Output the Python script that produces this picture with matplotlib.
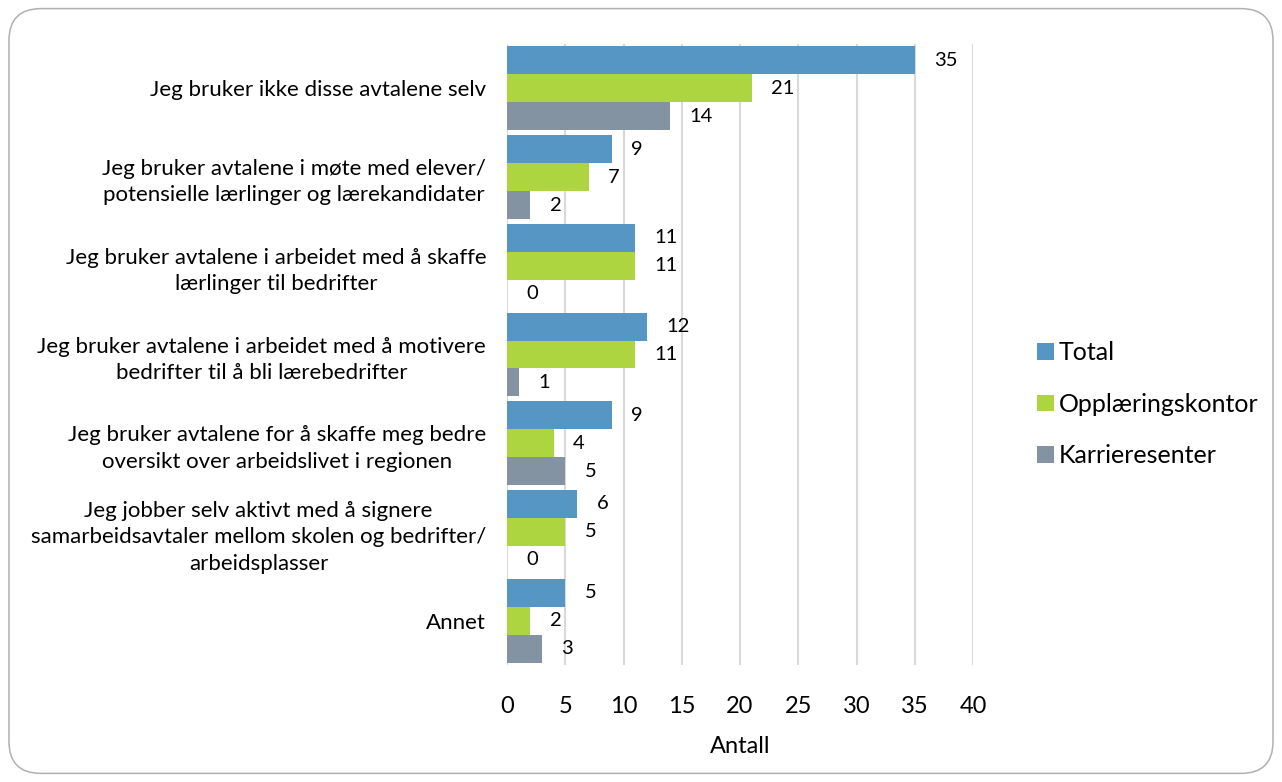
import numpy as np
import matplotlib.pyplot as plt
from matplotlib.patches import FancyBboxPatch

plt.rcParams['font.family'] = ['Lato', 'DejaVu Sans']

# Data
categories = [
    'Jeg bruker ikke disse avtalene selv',
    'Jeg bruker avtalene i møte med elever/\npotensielle lærlinger og lærekandidater',
    'Jeg bruker avtalene i arbeidet med å skaffe\nlærlinger til bedrifter',
    'Jeg bruker avtalene i arbeidet med å motivere\nbedrifter til å bli lærebedrifter',
    'Jeg bruker avtalene for å skaffe meg bedre\noversikt over arbeidslivet i regionen',
    'Jeg jobber selv aktivt med å signere\nsamarbeidsavtaler mellom skolen og bedrifter/\narbeidsplasser',
    'Annet',
]
total = [35, 9, 11, 12, 9, 6, 5]
opplaering = [21, 7, 11, 11, 4, 5, 2]
karriere = [14, 2, 0, 1, 5, 0, 3]
series_names = ['Total', 'Opplæringskontor', 'Karrieresenter']
colors = ['#5596C4', '#ADD53F', '#8393A1']

fig = plt.figure(figsize=(12.82, 7.82), dpi=100)
ax = fig.add_axes([0.3955, 0.1496, 0.3635, 0.7941])

# rounded frame around the whole chart
frame = FancyBboxPatch((0.007, 0.011), 0.986, 0.978, boxstyle='round,pad=0,rounding_size=0.025',
                       transform=fig.transFigure, fill=False, edgecolor='#B0B0B0',
                       linewidth=1.1, mutation_aspect=1282 / 782)
fig.patches.append(frame)

y = np.arange(len(categories))
h = 0.315
for i, (vals, name, col) in enumerate(zip([total, opplaering, karriere], series_names, colors)):
    pos = y + (i - 1) * h
    bars = ax.barh(pos, vals, height=h, color=col, label=name, zorder=3)
    for b, v in zip(bars, vals):
        ax.annotate(str(v), (b.get_width(), b.get_y() + b.get_height() / 2),
                    xytext=(14, 0), textcoords='offset points', va='center', ha='left',
                    fontsize=14.5, color='black')

ax.set_ylim(len(categories) - 0.5, -0.5)
ax.set_xlim(0, 40)
ax.set_xticks(range(0, 41, 5))
ax.set_yticks(y)
ax.set_yticklabels(categories, fontsize=16, multialignment='center', linespacing=1.4)
ax.tick_params(axis='both', length=0)
ax.tick_params(axis='x', labelsize=17, pad=22)
ax.tick_params(axis='y', pad=15)
ax.set_xlabel('Antall', fontsize=17, labelpad=14)
ax.grid(axis='x', color='#D9D9D9', linewidth=1.5, zorder=0)
for s in ax.spines.values():
    s.set_visible(False)

ax.legend(loc='center left', bbox_to_anchor=(1.09, 0.42), frameon=False, fontsize=18,
          handlelength=0.65, handleheight=0.65, handletextpad=0.2, labelspacing=1.15)

fig.savefig('out.png', dpi=100)
